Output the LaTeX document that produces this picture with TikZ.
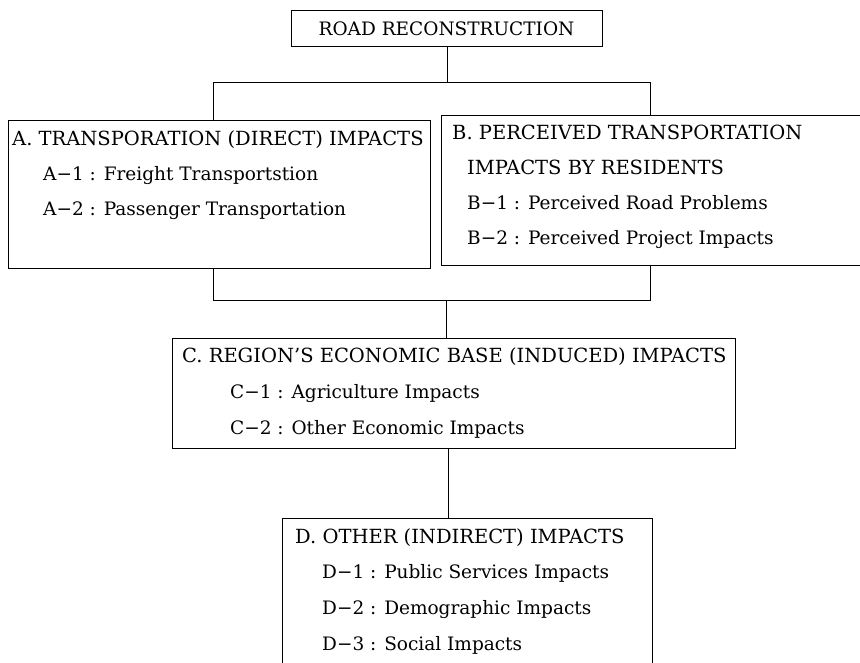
\documentclass[tikz,border=0pt]{standalone}
\usepackage{fontspec}
\setmainfont{DejaVu Serif}
\begin{document}
\begin{tikzpicture}[x=1pt,y=-1pt,
  box/.style={draw, line width=1pt, anchor=north west, inner sep=0pt, minimum width=#1},
  ttl/.style={anchor=base west, inner sep=0pt, font=\fontsize{19.5}{22}\selectfont},
  itm/.style={anchor=base west, inner sep=0pt, font=\fontsize{18.5}{22}\selectfont},
  conn/.style={line width=1pt}]
\useasboundingbox (0,0) rectangle (860,662);
\clip (0,0) rectangle (860,662);
\fill[white] (0,0) rectangle (860,662);
% boxes
\node[box=311, minimum height=36] (road) at (291,10) {};
\node[anchor=center, inner sep=0pt, font=\fontsize{18.5}{22}\selectfont] (roadt) at (446.5,29) {ROAD RECONSTRUCTION};
\node[box=422, minimum height=148] (A) at (8,120) {};
\node[box=440, minimum height=150] (B) at (441,115) {};
\node[box=563, minimum height=110] (C) at (172,338) {};
\node[box=370, minimum height=170] (D) at (282,518) {};
% texts A
\node[ttl] (a0) at (12,145) {A. TRANSPORATION (DIRECT) IMPACTS};
\node[itm] (a1) at (43,180) {A−1 : Freight Transportstion};
\node[itm] (a2) at (43,215) {A−2 : Passenger Transportation};
% texts B
\node[ttl] (b0) at (452,139) {B. PERCEIVED TRANSPORTATION};
\node[ttl] (b0b) at (467,174) {IMPACTS BY RESIDENTS};
\node[itm] (b1) at (467,209) {B−1 : Perceived Road Problems};
\node[itm] (b2) at (467,244) {B−2 : Perceived Project Impacts};
% texts C
\node[ttl] (c0) at (182,362) {C. REGION’S ECONOMIC BASE (INDUCED) IMPACTS};
\node[itm] (c1) at (230,398) {C−1 : Agriculture Impacts};
\node[itm] (c2) at (230,434) {C−2 : Other Economic Impacts};
% texts D
\node[ttl] (d0) at (295,543) {D. OTHER (INDIRECT) IMPACTS};
\node[itm] (d1) at (322,578) {D−1 : Public Services Impacts};
\node[itm] (d2) at (322,614) {D−2 : Demographic Impacts};
\node[itm] (d3) at (322,650) {D−3 : Social Impacts};
% connectors
\coordinate (j1) at (446,82);
\coordinate (jA) at (213,82);
\coordinate (jB) at (650,82);
\draw[conn] (road.south) -- (road.south |- j1);
\draw[conn] (jA |- A.north) -- (jA) -- (jB) -- (jB |- B.north);
\coordinate (kA) at (213,300);
\coordinate (kB) at (650,300);
\coordinate (kC) at (446,300);
\draw[conn] (kA |- A.south) -- (kA) -- (kB) -- (kB |- B.south);
\draw[conn] (kC) -- (kC |- C.north);
\coordinate (m) at (448,0);
\draw[conn] (m |- C.south) -- (m |- D.north);
\end{tikzpicture}
\end{document}
